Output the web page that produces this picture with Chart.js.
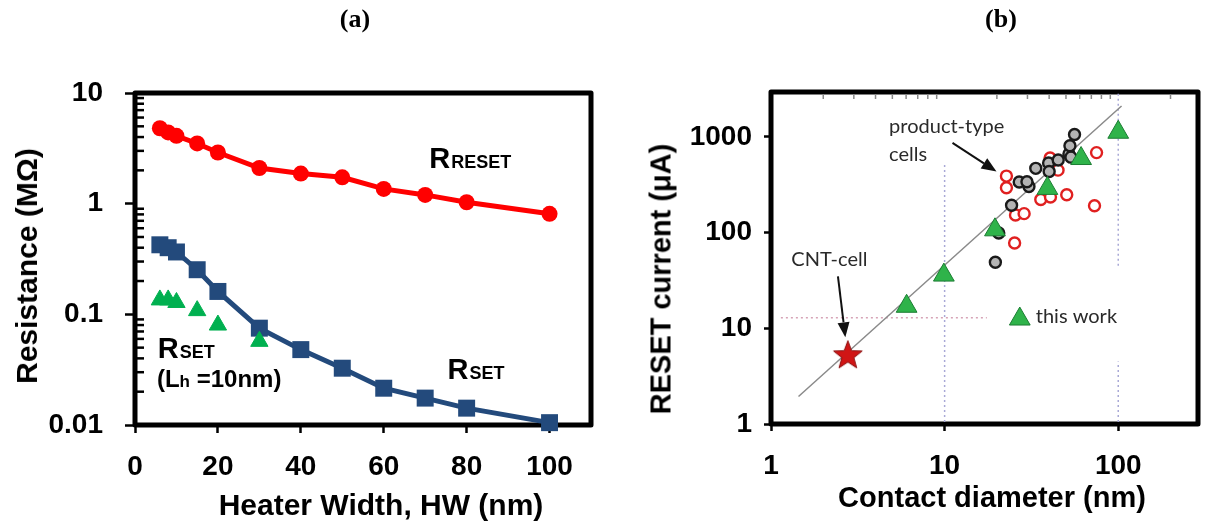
<!DOCTYPE html>
<html><head><meta charset="utf-8">
<script src="https://cdn.jsdelivr.net/npm/chart.js@4.4.0/dist/chart.umd.min.js"></script>
<style>
html,body{margin:0;padding:0;background:#fff;width:1214px;height:529px;overflow:hidden;position:relative;font-family:'Liberation Sans',Arial,sans-serif;}
canvas{position:absolute;top:0;}
#ca{left:0px} #cb{left:607px}
.lbl{position:absolute;font-weight:bold;white-space:nowrap;transform:translate(-50%,-50%);color:#000;font-family:'Liberation Sans',Arial,sans-serif;line-height:1}
.lbl.panel{font-family:'Liberation Serif','Times New Roman',serif;font-size:26px;}
.rot{transform:translate(-50%,-50%) rotate(-90deg);}
</style></head><body>
<canvas id="ca" width="607" height="529"></canvas>
<canvas id="cb" width="607" height="529"></canvas>
<div class="lbl panel" style="left:355px;top:19px">(a)</div>
<div class="lbl panel" style="left:1001px;top:19px">(b)</div>
<div class="lbl" style="left:381px;top:505px;font-size:30px">Heater Width, HW (nm)</div>
<div class="lbl rot" style="left:27px;top:266px;font-size:30px">Resistance (MΩ)</div>
<div class="lbl" style="left:992px;top:497px;font-size:29px">Contact diameter (nm)</div>
<div class="lbl rot" style="left:661px;top:279px;font-size:29px">RESET current (μA)</div>
<script>
// ---------- Panel (a) data ----------
const heaterWidth = [6, 8, 10, 15, 20, 30, 40, 50, 60, 70, 80, 100];
const rResetMOhm  = [4.8, 4.4, 4.1, 3.5, 2.9, 2.1, 1.87, 1.73, 1.36, 1.2, 1.03, 0.81];
const rSetMOhm    = [0.425, 0.40, 0.366, 0.253, 0.161, 0.075, 0.048, 0.0326, 0.0215, 0.0175, 0.0142, 0.0105];
const heaterWidthLh10 = [6, 8, 10, 15, 20, 30];
const rSetLh10MOhm    = [0.135, 0.135, 0.128, 0.108, 0.08, 0.057];
const xTicksA = [0, 20, 40, 60, 80, 100];
const xTickLabelsA = ['0', '20', '40', '60', '80', '100'];
const yTicksA = [10, 1, 0.1, 0.01];
const yTickLabelsA = ['10', '1', '0.1', '0.01'];

// ---------- Panel (b) data ----------
const cntDiam = [2.77];
const cntCurrent = [5.36];
const thisWorkDiam = [6.04, 9.9, 19.5, 39.1, 61.1, 100];
const thisWorkCurrent = [17, 36, 107, 290, 595, 1120];
const productGreyDiam = [19.6, 20.5, 24.3, 26.9, 30.6, 29.8, 33.5, 39.7, 40, 45.1, 52, 53.4, 52.7, 56];
const productGreyCurrent = [49, 99, 193, 338, 303, 340, 470, 535, 435, 575, 665, 615, 810, 1060];
const productRedDiam = [22.7, 22.7, 25.6, 28.7, 25.3, 35.8, 40.7, 40.5, 45, 50.5, 75, 73];
const productRedCurrent = [390, 295, 153, 158, 78, 222, 236, 602, 450, 249, 686, 191];
const trendDiam = [1.44, 104.5];
const trendCurrent = [1.94, 2104];
const guide10Diam = [10, 10];
const guide10Current = [1.05, 530];
const guide100aDiam = [100, 100];
const guide100aCurrent = [1.05, 4.5];
const guide100bDiam = [100, 100];
const guide100bCurrent = [45, 2950];
const guideHDiam = [1.14, 17.5];
const guideHCurrent = [12.9, 12.9];
const legendDiam = [27.1];
const legendCurrent = [12.5];
const xTicksB = [1, 10, 100];
const xTickLabelsB = ['1', '10', '100'];
const yTicksB = [1, 10, 100, 1000];
const yTickLabelsB = ['1', '10', '100', '1000'];

const pts = (xs, ys) => xs.map((x, i) => ({x: x, y: ys[i]}));
const fixTicks = vals => scale => { scale.ticks = vals.map(v => ({value: v})); };
const labelFrom = (vals, labels) => (v) => { const i = vals.indexOf(v); return i >= 0 ? labels[i] : ''; };
const SANS = "'Liberation Sans', Arial, sans-serif";

function boxPlugin(id) {
  return {
    id: id,
    beforeDatasetsDraw(chart) {
      const a = chart.chartArea, ctx = chart.ctx;
      ctx.save();
      ctx.lineWidth = 5; ctx.strokeStyle = '#000'; ctx.lineJoin = 'round';
      ctx.strokeRect(a.left, a.top, a.right - a.left, a.bottom - a.top);
      ctx.restore();
    }
  };
}

// ---------- Chart (a) ----------
const annoA = [
  {big: 'R', small: 'RESET', x: 71, y: 2.12},
  {big: 'R', small: 'SET', x: 5.5, y: 0.0405},
  {big: 'R', small: 'SET', x: 75.4, y: 0.0262}
];
const lhAnno = {x: 5.3, y: 0.0222};

const annotA = {
  id: 'annotA',
  afterDraw(chart) {
    const ctx = chart.ctx, xs = chart.scales.x, ys = chart.scales.y, a = chart.chartArea;
    ctx.save();
    ctx.strokeStyle = '#000'; ctx.lineWidth = 2.5;
    [0.01, 0.1, 1].forEach(d => {
      for (let m = 2; m <= 9; m++) {
        const py = ys.getPixelForValue(d * m);
        ctx.beginPath(); ctx.moveTo(a.left, py); ctx.lineTo(a.left + 9, py); ctx.stroke();
      }
    });
    ctx.fillStyle = '#000'; ctx.textBaseline = 'alphabetic'; ctx.textAlign = 'left';
    annoA.forEach(t => {
      let px = xs.getPixelForValue(t.x), py = ys.getPixelForValue(t.y);
      ctx.font = 'bold 29px ' + SANS; ctx.fillText(t.big, px, py);
      px += ctx.measureText(t.big).width + 1;
      ctx.font = 'bold 18px ' + SANS; ctx.fillText(t.small, px, py);
    });
    let px = xs.getPixelForValue(lhAnno.x), py = ys.getPixelForValue(lhAnno.y);
    [['(L', 24], ['h', 17], [' =10nm)', 24]].forEach(p => {
      ctx.font = 'bold ' + p[1] + 'px ' + SANS; ctx.fillText(p[0], px, py);
      px += ctx.measureText(p[0]).width;
    });
    ctx.restore();
  }
};

new Chart(document.getElementById('ca'), {
  type: 'scatter',
  data: {datasets: [
    {data: pts(heaterWidthLh10, rSetLh10MOhm), showLine: false, pointStyle: 'triangle', pointRadius: 10,
     backgroundColor: '#00b050', borderColor: '#00b050', pointBorderWidth: 1, clip: false},
    {data: pts(heaterWidth, rSetMOhm), showLine: true, borderColor: '#234a7c', borderWidth: 5,
     pointStyle: 'rect', pointRadius: 12, backgroundColor: '#234a7c', pointBorderWidth: 0, clip: false},
    {data: pts(heaterWidth, rResetMOhm), showLine: true, borderColor: '#ff0000', borderWidth: 5,
     pointStyle: 'circle', pointRadius: 8, backgroundColor: '#ff0000', pointBorderWidth: 0, clip: false}
  ]},
  options: {
    responsive: false, animation: false, devicePixelRatio: 1,
    layout: {padding: {top: 93, right: 16, left: 0, bottom: 0}},
    plugins: {legend: {display: false}, tooltip: {enabled: false}},
    scales: {
      x: {type: 'linear', min: 0, max: 110, afterBuildTicks: fixTicks(xTicksA),
          afterFit: s => { s.height = 104; },
          border: {display: false},
          grid: {drawOnChartArea: false, drawTicks: true, tickLength: 8, tickWidth: 2.5, tickColor: '#000'},
          ticks: {autoSkip: false, maxRotation: 0, padding: 17, color: '#000',
                  font: {family: SANS, size: 28, weight: 'bold'}, callback: labelFrom(xTicksA, xTickLabelsA)}},
      y: {type: 'logarithmic', min: 0.01, max: 10, afterBuildTicks: fixTicks(yTicksA),
          afterFit: s => { s.width = 135; },
          border: {display: false},
          grid: {drawOnChartArea: false, drawTicks: true, tickLength: 10, tickWidth: 2.5, tickColor: '#000'},
          ticks: {autoSkip: false, padding: 22, color: '#000',
                  font: {family: SANS, size: 28, weight: 'bold'}, callback: labelFrom(yTicksA, yTickLabelsA)}}
    }
  },
  plugins: [boxPlugin('boxA'), annotA]
});

// ---------- Chart (b) ----------
function starCanvas(r, fill, stroke) {
  const c = document.createElement('canvas');
  const s = Math.ceil(r * 2 + 4); c.width = s; c.height = s;
  const g = c.getContext('2d'); const cx = s / 2, cy = s / 2 + r * 0.1;
  g.beginPath();
  for (let i = 0; i < 10; i++) {
    const rr = i % 2 ? r * 0.42 : r; const ang = -Math.PI / 2 + i * Math.PI / 5;
    g.lineTo(cx + rr * Math.cos(ang), cy + rr * Math.sin(ang));
  }
  g.closePath(); g.fillStyle = fill; g.fill(); g.strokeStyle = stroke; g.lineWidth = 1; g.stroke();
  return c;
}

const arrowsB = [
  {d0: 11.1, i0: 866, d1: 19.9, i1: 435},
  {d0: 2.43, i0: 35, d1: 2.68, i1: 8.05}
];
const textB = [
  {t: 'product-type', d: 4.79, i: 1280},
  {t: 'cells', d: 4.79, i: 649},
  {t: 'CNT-cell', d: 1.31, i: 52},
  {t: 'this work', d: 33.5, i: 13.4}
];
const minorTopB = [2, 3, 4, 5, 6, 7, 8, 9, 20, 30, 40, 50, 60, 70, 80, 90, 200];

const annotB = {
  id: 'annotB',
  afterDraw(chart) {
    const ctx = chart.ctx, xs = chart.scales.x, ys = chart.scales.y, a = chart.chartArea;
    ctx.save();
    ctx.strokeStyle = '#888'; ctx.lineWidth = 1.5;
    minorTopB.forEach(v => {
      const px = xs.getPixelForValue(v);
      ctx.beginPath(); ctx.moveTo(px, a.top + 2); ctx.lineTo(px, a.top + 7); ctx.stroke();
    });
    ctx.strokeStyle = '#111'; ctx.fillStyle = '#111'; ctx.lineWidth = 2;
    arrowsB.forEach(ar => {
      const x0 = xs.getPixelForValue(ar.d0), y0 = ys.getPixelForValue(ar.i0);
      const x1 = xs.getPixelForValue(ar.d1), y1 = ys.getPixelForValue(ar.i1);
      const ang = Math.atan2(y1 - y0, x1 - x0), L = 15, W = 6;
      const bx = x1 - L * Math.cos(ang), by = y1 - L * Math.sin(ang);
      ctx.beginPath(); ctx.moveTo(x0, y0); ctx.lineTo(bx, by); ctx.stroke();
      ctx.beginPath(); ctx.moveTo(x1, y1);
      ctx.lineTo(bx + W * Math.sin(ang), by - W * Math.cos(ang));
      ctx.lineTo(bx - W * Math.sin(ang), by + W * Math.cos(ang));
      ctx.closePath(); ctx.fill();
    });
    ctx.fillStyle = '#2a2a2a'; ctx.font = "20px Lato, 'Open Sans', sans-serif";
    ctx.textAlign = 'left'; ctx.textBaseline = 'middle';
    textB.forEach(t => ctx.fillText(t.t, xs.getPixelForValue(t.d), ys.getPixelForValue(t.i)));
    ctx.restore();
  }
};

const guideV = {showLine: true, borderColor: '#a9a9d6', borderWidth: 1.5, borderDash: [2, 3], pointRadius: 0, clip: false};
new Chart(document.getElementById('cb'), {
  type: 'scatter',
  data: {datasets: [
    {data: pts(cntDiam, cntCurrent), pointStyle: starCanvas(15, '#d01515', '#8a0e0e'), pointRadius: 15, clip: false},
    {data: pts(legendDiam, legendCurrent), pointStyle: 'triangle', pointRadius: 12,
     backgroundColor: '#2fb34a', borderColor: '#1c7d33', pointBorderWidth: 1, clip: false},
    {data: pts(thisWorkDiam, thisWorkCurrent), pointStyle: 'triangle', pointRadius: 12,
     backgroundColor: '#2fb34a', borderColor: '#1c7d33', pointBorderWidth: 1, clip: false},
    {data: pts(productGreyDiam, productGreyCurrent), pointStyle: 'circle', pointRadius: 5.5,
     backgroundColor: '#b4b4b4', borderColor: '#1a1a1a', pointBorderWidth: 2.4, clip: false},
    {data: pts(productRedDiam, productRedCurrent), pointStyle: 'circle', pointRadius: 5.5,
     backgroundColor: 'rgba(255,255,255,0.9)', borderColor: '#e02020', pointBorderWidth: 2.4, clip: false},
    {data: pts(trendDiam, trendCurrent), showLine: true, borderColor: '#8a8a8a', borderWidth: 1.5, pointRadius: 0, clip: false},
    Object.assign({data: pts(guide10Diam, guide10Current)}, guideV),
    Object.assign({data: pts(guide100aDiam, guide100aCurrent)}, guideV),
    Object.assign({data: pts(guide100bDiam, guide100bCurrent)}, guideV),
    {data: pts(guideHDiam, guideHCurrent), showLine: true, borderColor: '#d6a3b6', borderWidth: 1.5, borderDash: [2, 3], pointRadius: 0, clip: false}
  ]},
  options: {
    responsive: false, animation: false, devicePixelRatio: 1,
    layout: {padding: {top: 92, right: 6, left: 0, bottom: 0}},
    plugins: {legend: {display: false}, tooltip: {enabled: false}},
    scales: {
      x: {type: 'logarithmic', min: 1, max: 288, afterBuildTicks: fixTicks(xTicksB),
          afterFit: s => { s.height = 105; },
          border: {display: false},
          grid: {drawOnChartArea: false, drawTicks: true, tickLength: 7, tickWidth: 2.5, tickColor: '#000'},
          ticks: {autoSkip: false, maxRotation: 0, padding: 18, color: '#000',
                  font: {family: SANS, size: 28, weight: 'bold'}, callback: labelFrom(xTicksB, xTickLabelsB)}},
      y: {type: 'logarithmic', min: 1, max: 2950, afterBuildTicks: fixTicks(yTicksB),
          afterFit: s => { s.width = 164; },
          border: {display: false},
          grid: {drawOnChartArea: false, drawTicks: true, tickLength: 7, tickWidth: 2.5, tickColor: '#000'},
          ticks: {autoSkip: false, padding: 12, color: '#000',
                  font: {family: SANS, size: 28, weight: 'bold'}, callback: labelFrom(yTicksB, yTickLabelsB)}}
    }
  },
  plugins: [boxPlugin('boxB'), annotB]
});
</script>
</body></html>
